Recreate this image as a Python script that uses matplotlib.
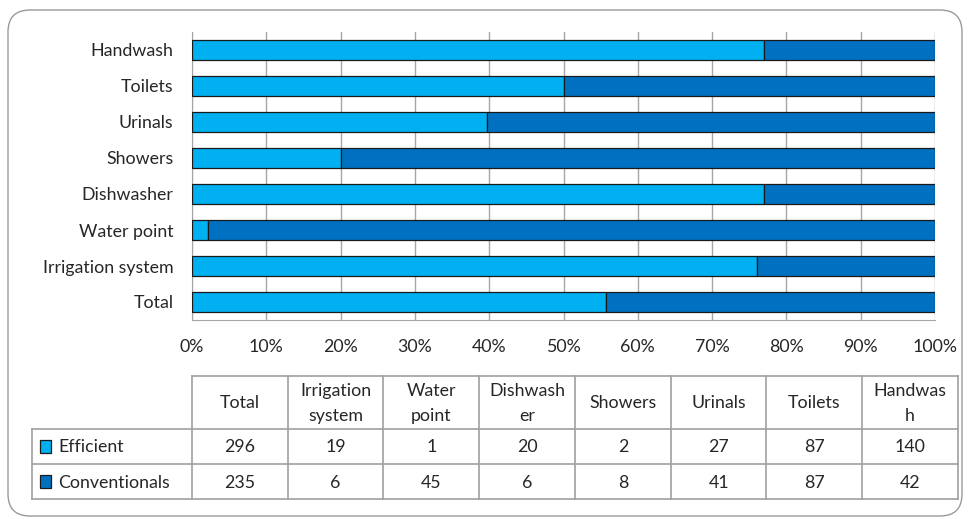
import matplotlib
matplotlib.use("Agg")
import matplotlib.pyplot as plt
from matplotlib.patches import FancyBboxPatch, Rectangle
import numpy as np

# Fixture counts
categories = ["Total", "Irrigation system", "Water point", "Dishwasher",
              "Showers", "Urinals", "Toilets", "Handwash"]
table_headers = ["Total", "Irrigation\nsystem", "Water\npoint", "Dishwash\ner",
                 "Showers", "Urinals", "Toilets", "Handwas\nh"]
efficient = [296, 19, 1, 20, 2, 27, 87, 140]
conventional = [235, 6, 45, 6, 8, 41, 87, 42]
series_names = ["Efficient", "Conventionals"]
x_ticks = [0, 10, 20, 30, 40, 50, 60, 70, 80, 90, 100]

C_EFF = "#00B0F0"
C_CONV = "#0070C0"
GRID = "#A6A6A6"
TXT = "#262626"

plt.rcParams["font.family"] = ["Lato", "DejaVu Sans"]
FS = 12.8

W, H = 969, 519
fig = plt.figure(figsize=(W / 100, H / 100), dpi=100)

# Background layer in pixel coordinates for the frame and table
bg = fig.add_axes([0, 0, 1, 1])
bg.set_xlim(0, W)
bg.set_ylim(H, 0)
bg.axis("off")
bg.add_patch(FancyBboxPatch((8, 10), 954, 506,
                            boxstyle="round,pad=0,rounding_size=22",
                            fc="white", ec="#9A9A9A", lw=1.0))

# Bar chart
left, right, top, bottom = 192, 935, 32, 320
ax = fig.add_axes([left / W, 1 - bottom / H, (right - left) / W, (bottom - top) / H])
eff = np.array(efficient, float)
conv = np.array(conventional, float)
tot = eff + conv
eff_pct = eff / tot * 100
conv_pct = conv / tot * 100
y = np.arange(len(categories))
ax.barh(y, eff_pct, height=0.58, color=C_EFF, edgecolor="#1a1a1a", lw=0.9, zorder=3)
ax.barh(y, conv_pct, left=eff_pct, height=0.58, color=C_CONV, edgecolor="#1a1a1a",
        lw=0.9, zorder=3)
ax.set_ylim(-0.5, len(categories) - 0.5)
ax.set_xlim(0, 100)
ax.set_xticks(x_ticks)
ax.set_xticklabels([f"{t}%" for t in x_ticks], fontsize=FS, color=TXT)
ax.set_yticks(y)
ax.set_yticklabels(categories, fontsize=FS, color=TXT)
ax.tick_params(axis="both", length=0)
ax.tick_params(axis="x", pad=14)
ax.tick_params(axis="y", pad=13.5)
ax.grid(axis="x", color=GRID, lw=1.0, zorder=0)
for s in ["top", "right"]:
    ax.spines[s].set_visible(False)
ax.spines["left"].set_color(GRID)
ax.spines["bottom"].set_color(GRID)
ax.set_facecolor("none")

# Data table
col_x0, col_w = 192, 95.75
row_head_x0 = 32
y_hdr_top, y_hdr_bot, y_r1_bot, y_r2_bot = 376, 429, 464, 499
ncol = len(table_headers)
col_x1 = col_x0 + ncol * col_w
lc = "#A0A0A0"
lw = 1.2
# horizontal lines
bg.plot([col_x0, col_x1], [y_hdr_top, y_hdr_top], color=lc, lw=lw)
for yy in [y_hdr_bot, y_r1_bot, y_r2_bot]:
    bg.plot([row_head_x0, col_x1], [yy, yy], color=lc, lw=lw)
# vertical lines
bg.plot([row_head_x0, row_head_x0], [y_hdr_bot, y_r2_bot], color=lc, lw=lw)
for i in range(ncol + 1):
    xx = col_x0 + i * col_w
    bg.plot([xx, xx], [y_hdr_top, y_r2_bot], color=lc, lw=lw)

for i, h in enumerate(table_headers):
    cx = col_x0 + (i + 0.5) * col_w
    bg.text(cx, (y_hdr_top + y_hdr_bot) / 2 + 1, h, ha="center", va="center",
            fontsize=FS, color=TXT, linespacing=1.75)

rows = [efficient, conventional]
colors = [C_EFF, C_CONV]
row_bounds = [(y_hdr_bot, y_r1_bot), (y_r1_bot, y_r2_bot)]
for (y0, y1), name, vals, c in zip(row_bounds, series_names, rows, colors):
    cy = (y0 + y1) / 2
    bg.add_patch(Rectangle((40, cy - 7), 11, 13, fc=c, ec="#1a1a1a", lw=0.9))
    bg.text(58, cy + 1, name, ha="left", va="center", fontsize=FS, color=TXT)
    for i, v in enumerate(vals):
        cx = col_x0 + (i + 0.5) * col_w
        bg.text(cx, cy + 1, str(v), ha="center", va="center", fontsize=FS, color=TXT)

fig.savefig("out.png", dpi=100)
